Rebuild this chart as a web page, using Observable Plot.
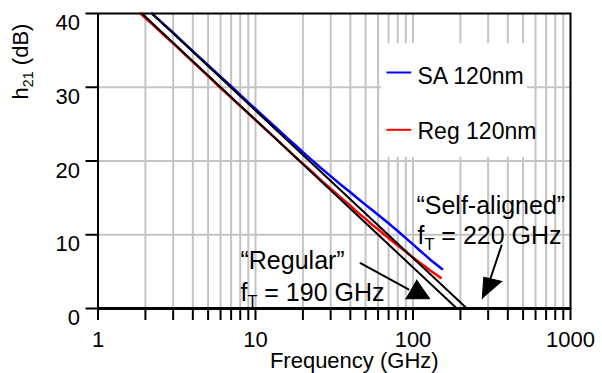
<!DOCTYPE html>
<html><head><meta charset="utf-8">
<script src="https://cdn.jsdelivr.net/npm/d3@7"></script>
<script src="https://cdn.jsdelivr.net/npm/@observablehq/plot@0.6"></script>
<style>
body{margin:0;background:#fff}
svg{font-family:"Liberation Sans",Arial,sans-serif}
</style>
</head><body><div id="chart"></div>
<script>
// Measured h21 (dB) vs frequency (GHz)
const saFreq = [2.2,2.6,3,3.5,4,5,6,7,8,9,10,12,14,16,18,20,23,26,30,35,40,45,50,55,60,65,70,75,80,90,100,110,120,130,140,153];
const saDb   = [40.0,38.6,37.4,36.05,34.9,33.0,31.45,30.15,28.95,27.95,27.05,25.5,24.2,23.05,22.1,21.2,20.05,19.05,17.95,16.75,15.75,14.85,14.05,13.35,12.7,12.1,11.55,11.0,10.5,9.55,8.7,7.9,7.2,6.55,6.0,5.35];
const regFreq = [1.86,2.2,2.6,3,3.5,4,5,6,7,8,9,10,12,14,16,18,20,23,26,30,35,40,45,50,55,60,65,70,75,80,90,100,110,120,130,140,150];
const regDb   = [40.0,38.6,37.15,35.95,34.6,33.45,31.5,29.9,28.6,27.45,26.45,25.55,24.0,22.7,21.55,20.5,19.65,18.5,17.4,16.25,15.0,13.95,12.95,12.15,11.35,10.75,10.1,9.55,9.0,8.55,7.7,6.9,6.25,5.65,5.1,4.6,4.15];

// -20 dB/decade extrapolation lines
const fitSaFreq = [2.2, 220];
const fitSaDb = [40, 0];
const fitRegFreq = [1.9, 190];
const fitRegDb = [40, 0];

// Axis ticks
const xTicks = [1,2,3,4,5,6,7,8,9,10,20,30,40,50,60,70,80,90,100,200,300,400,500,600,700,800,900,1000];
const xTickLabels = [1,10,100,1000];
const yTicks = [0,10,20,30,40];
const yGrid = [10,20,30];

// Legend
const legendNames = ["SA 120nm","Reg 120nm"];
const legendColors = ["#0000ff","#ff0000"];
const legendLineDb = [32.0, 24.23];
const legendTextDb = [31.5, 23.92];
const legendLineFreq = [67.9, 97.4];
const legendTextFreq = 106.8;
const legendBox = {f1: 63, f2: 533, db1: 20.5, db2: 35.9};

// Annotations
const annoText = ["\u201CSelf-aligned\u201D", "fT = 220 GHz", "\u201CRegular\u201D", "fT = 190 GHz"];
const annoFreq = [105.2, 106.8, 8.03, 8.03];
const annoDb = [12.88, 8.81, 5.29, 1.08];
const regArrowFreq = [46.4, 93.6];
const regArrowDb = [6.14, 2.58];
const regHeadFreq = [89.6, 127.8, 105.2];
const regHeadDb = [1.32, 1.32, 3.89];
const saArrowFreq = [364.7, 307.3];
const saArrowDb = [8.54, 3.80];
const saHeadFreq = [275.0, 281.5, 368.4];
const saHeadDb = [1.32, 4.24, 3.66];

const pts = (fs, ds) => fs.map((f, i) => ({f, db: ds[i]}));

const svg = Plot.plot({
  width: 602, height: 373,
  marginLeft: 97.5, marginRight: 32, marginTop: 13, marginBottom: 65,
  x: {type: "log", domain: [1, 1000], label: null},
  y: {domain: [0, 40], label: null},
  style: {fontFamily: "'Liberation Sans', Arial, sans-serif", color: "black", background: "white"},
  marks: [
    Plot.gridX(xTicks.filter(t => t > 1 && t < 1000), {stroke: "#c4c4c4", strokeOpacity: 1, strokeWidth: 2}),
    Plot.gridY(yGrid, {stroke: "#c4c4c4", strokeOpacity: 1, strokeWidth: 2}),
    Plot.rect([legendBox], {x1: "f1", x2: "f2", y1: "db1", y2: "db2", fill: "white"}),
    Plot.line(pts(saFreq, saDb), {x: "f", y: "db", stroke: "#0000ff", strokeWidth: 2.5}),
    Plot.line(pts(regFreq, regDb), {x: "f", y: "db", stroke: "#ff0000", strokeWidth: 2.5}),
    Plot.line(pts(fitSaFreq, fitSaDb), {x: "f", y: "db", stroke: "black", strokeWidth: 2}),
    Plot.line(pts(fitRegFreq, fitRegDb), {x: "f", y: "db", stroke: "black", strokeWidth: 2}),
    // legend
    Plot.link(legendNames.map((n, i) => ({n, c: legendColors[i], db: legendLineDb[i]})), {
      x1: () => legendLineFreq[0], x2: () => legendLineFreq[1], y1: "db", y2: "db", stroke: "c", strokeWidth: 2
    }),
    Plot.text(legendNames.map((n, i) => ({n, db: legendTextDb[i]})), {
      x: () => legendTextFreq, y: "db", text: "n", textAnchor: "start", lineAnchor: "middle", fontSize: 23, fill: "black"
    }),
    // annotations
    Plot.text(annoText.map((t, i) => ({t, f: annoFreq[i], db: annoDb[i]})), {
      x: "f", y: "db", text: "t", textAnchor: "start", lineAnchor: "bottom", fontSize: 25, fill: "black"
    }),
    Plot.line(pts(regArrowFreq, regArrowDb), {x: "f", y: "db", stroke: "black", strokeWidth: 2}),
    Plot.line(pts(saArrowFreq, saArrowDb), {x: "f", y: "db", stroke: "black", strokeWidth: 2}),
    Plot.line(pts(regHeadFreq, regHeadDb), {x: "f", y: "db", stroke: "black", fill: "black", strokeWidth: 1}),
    Plot.line(pts(saHeadFreq, saHeadDb), {x: "f", y: "db", stroke: "black", fill: "black", strokeWidth: 1}),
    // frame and axes
    Plot.frame({stroke: "black", strokeWidth: 2}),
    Plot.ruleY([0], {stroke: "black", strokeWidth: 3}),
    Plot.axisX(xTicks, {tickSize: 12, tickPadding: 11, strokeWidth: 2, fontSize: 22, label: null,
      tickFormat: d => xTickLabels.includes(d) ? String(d) : ""}),
    Plot.axisY(yTicks, {tickSize: 12, strokeWidth: 2, label: null, tickFormat: () => ""}),
    Plot.axisY(yTicks, {tickSize: 0, tickPadding: 18, dy: 9.5, fontSize: 22, label: null}),
    Plot.text(["Frequency (GHz)"], {frameAnchor: "bottom", text: d => d, dx: 20, dy: 59, lineAnchor: "bottom", fontSize: 22, fill: "black"}),
    Plot.text(["h21 (dB)"], {frameAnchor: "top-left", text: d => d, rotate: -90, dx: -77, dy: 48,
      textAnchor: "middle", lineAnchor: "middle", fontSize: 22, fill: "black"})
  ]
});

// subscripts
const ns = "http://www.w3.org/2000/svg";
function subscript(el, base, sub, rest, shift) {
  el.textContent = "";
  const a = document.createElementNS(ns, "tspan"); a.textContent = base;
  const b = document.createElementNS(ns, "tspan"); b.textContent = sub;
  b.setAttribute("font-size", "0.65em"); b.setAttribute("dy", shift);
  const c = document.createElementNS(ns, "tspan"); c.textContent = rest;
  c.setAttribute("dy", -shift);
  el.append(a, b, c);
}
svg.querySelectorAll("text").forEach(el => {
  const t = el.textContent;
  if (t === "h21 (dB)") subscript(el, "h", "21", " (dB)", 5);
  else if (t === "fT = 220 GHz") subscript(el, "f", "T", " = 220 GHz", 6);
  else if (t === "fT = 190 GHz") subscript(el, "f", "T", " = 190 GHz", 6);
});
document.getElementById("chart").append(svg);
</script>
</body></html>
